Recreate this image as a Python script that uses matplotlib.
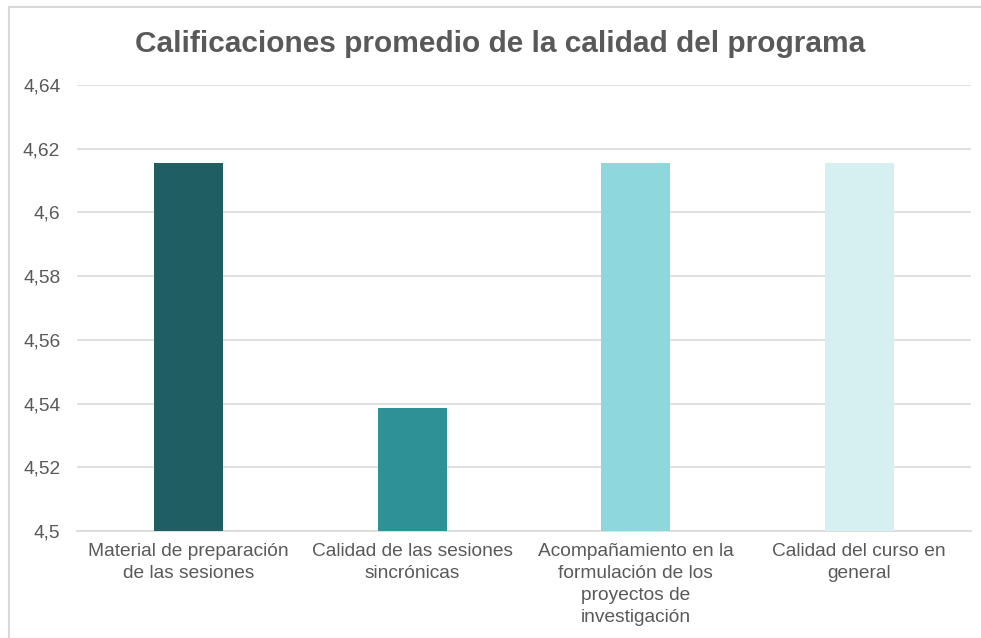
import matplotlib.pyplot as plt
from matplotlib.patches import Rectangle
from matplotlib.ticker import FuncFormatter

categories = ["Material de preparación\nde las sesiones",
              "Calidad de las sesiones\nsincrónicas",
              "Acompañamiento en la\nformulación de los\nproyectos de\ninvestigación",
              "Calidad del curso en\ngeneral"]
values = [4.6154, 4.5385, 4.6154, 4.6154]
colors = ["#1F5F63", "#2E9196", "#8ED8DD", "#D6EFF0"]
yticks = [4.5, 4.52, 4.54, 4.56, 4.58, 4.6, 4.62, 4.64]

plt.rcParams['font.family'] = ['Liberation Sans', 'DejaVu Sans']
W, H = 981, 638
fig = plt.figure(figsize=(W / 100, H / 100), dpi=100)

# frame around the chart (runs off the right and bottom edges)
fig.patches.append(Rectangle((9 / W, -0.1), 1.2, 1 - 7 / H + 0.1, transform=fig.transFigure,
                             fill=False, edgecolor="#D9D9D9", linewidth=1.5))

ax = fig.add_axes([77 / W, 1 - 531 / H, (971 - 77) / W, (531 - 85) / H])
x = range(len(categories))
ax.bar(x, values, width=0.31, color=colors, zorder=3)
ax.set_ylim(4.5, 4.64)
ax.set_xlim(-0.5, len(categories) - 0.5)
ax.set_yticks(yticks)
ax.yaxis.set_major_formatter(FuncFormatter(lambda v, p: ("%g" % round(v, 2)).replace(".", ",")))
ax.set_xticks(list(x))
ax.set_xticklabels(categories, fontsize=13.8, color="#595959", linespacing=1.38)
ax.tick_params(axis="y", labelsize=13.8, labelcolor="#595959", length=0, pad=12)
ax.tick_params(axis="x", length=0, pad=9)
ax.grid(axis="y", color="#D9D9D9", linewidth=1.2, zorder=0)
for s in ["top", "right", "left"]:
    ax.spines[s].set_visible(False)
ax.spines["bottom"].set_color("#D9D9D9")
ax.spines["bottom"].set_linewidth(1.2)

fig.text(500 / W, 1 - 44 / H, "Calificaciones promedio de la calidad del programa",
         ha="center", va="center", fontsize=21.5, fontweight="bold", color="#595959")

fig.savefig("out.png", dpi=100)
